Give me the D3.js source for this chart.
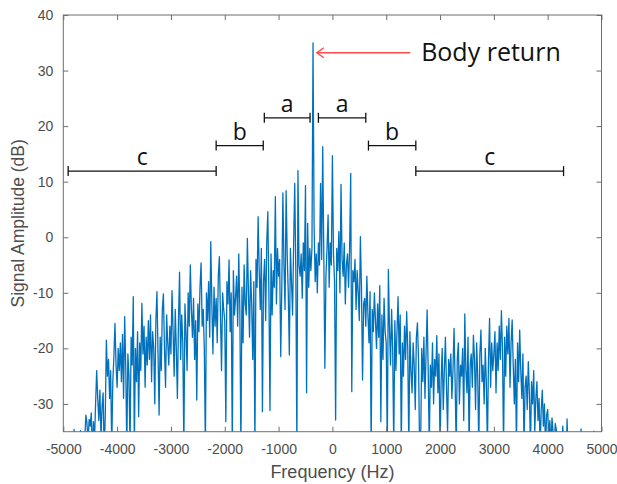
<!DOCTYPE html>
<html>
<head>
<meta charset="utf-8">
<script src="https://cdn.jsdelivr.net/npm/d3@7"></script>
<style>
  body { margin: 0; background: #fff; }
  svg { display: block; }
</style>
</head>
<body>
<svg id="chart" width="617" height="484"></svg>
<script>
// spectrum bins: first bin and bin width (Hz)
var binStart = -5000;
var binWidth = 20;

// signal amplitude (dB), one row per 200 Hz
var amplitude = [
  -42, -40, -44, -39, -41, -45, -40, -38, -43, -41,          // -5000
  -34.6, -39, -42, -40, -44, -38, -34.8, -41, -43, -39,      // -4800
  -36, -32, -33.5, -37, -32.8, -34, -31.6, -39, -33.2, -36.5, // -4600
  -30, -24, -29, -33, -27.5, -36, -30.5, -28, -39, -32,      // -4400
  -18.5, -25, -22, -29, -24, -38, -26, -21.5, -15.5, -23,    // -4200
  -27, -20, -24, -19, -26, -17.5, -29, -14.3, -23, -38,      // -4000
  -21, -25, -38, -18, -23, -10.7, -38, -20, -26, -17,        // -3800
  -32.3, -19, -24, -11.9, -21, -16, -27, -18, -23, -15,      // -3600
  -22, -14, -26, -17, -20, -30, -15, -9.8, -21, -32,         // -3400
  -18, -24, -13, -10.2, -20, -27, -14, -19, -23, -16,        // -3200
  -21, -9.6, -17, -25, -13, -20, -29, -15, -6.3, -22,        // -3000
  -14, -19, -38, -12, -17, -24, -10, -16, -5, -13,           // -2800
  -18, -11, -22, -15, -29.3, -12, -17, -9, -4.6, -16,        // -2600
  -13, -20, -38, -10, -15, -8, -18, -0.8, -12, -21,          // -2400
  -9, -16, -11, -19, -7, -3.5, -14, -24, -10, -13,           // -2200
  -15, -33.2, -8, -12, -4.1, -17, -10, -38, -6, -14,         // -2000
  -11, -7, -16, -3, -13, -38, -9, -19, -5, -12,              // -1800
  -14, -0.2, -10, -18, -6, -12, -22, -8, -38, -4,            // -1600
  -9, 3.7, -6, -13, -2, -31.4, -8, -4, -15, -1,              // -1400
  4.6, -10, -31.2, -3, -14, -6, -9, 7.3, -12, -2,            // -1200
  -7, -4, -21.5, -9, 8, -5, -13, 8.4, -3, -10,               // -1000
  -21.2, -2, -8, -14, -1, 9.7, -6, -38, 12, -5,              // -800
  -7, -3, -11, -1, -6, 9.3, -28, 2.5, -9, -2,                // -600
  -6, -2, 35, 2, -8, -3, -10, -1, -5, 9.7,                   // -400
  -4, 16.3, -3, -23.6, -7, -2, 4, -9, -1, -5,                // -200
  14.7, -3, -8, -32.9, -2, -6, 1, -10, 9.5, -4,              // 0
  -7, -1, -12, -5, -3, -9, -2, 11.5, -27.8, -6,              // 200
  -8, -4, -13, -6, -10, -15, 0.1, -9, -25.7, -12,            // 400
  -11, -16, -7, -14, -19, -9.8, -38, -13, -17, -10,          // 600
  -15, -20, -12, -18, -8.7, -33.2, -14, -22, -11, -17,       // 800
  -19, -38, -5.8, -16, -23, -13, -20, -38, -15, -24,         // 1000
  -17, -10.7, -21, -14, -38, -19, -25, -16, -22, -13.4,      // 1200
  -20, -38, -17, -24, -28, -19, -23, -31, -18, -15.4,        // 1400
  -22, -38, -37, -20, -26, -18, -29, -21, -13.1, -24,        // 1600
  -38, -23, -27, -19, -30, -22, -25, -17.7, -28, -21,        // 1800
  -38, -26, -20, -31, -24, -18, -27, -35, -22, -25,          // 2000
  -21, -29, -24, -16.4, -26, -38, -22, -19, -30, -23,        // 2200
  -25, -20, -33, -13.8, -24, -28, -18, -38, -23, -21,        // 2400
  -27, -17.6, -22, -31, -19, -25, -38, -21, -16.7, -26,      // 2600
  -23, -30, -20, -26, -38, -22, -14.6, -27, -19, -24,        // 2800
  -21, -17, -28, -19, -24, -16, -22, -13.2, -20, -38,        // 3000
  -18, -25, -16, -21, -14.6, -27, -19, -14.9, -23, -30,      // 3200
  -22, -38, -19, -26, -16.7, -24, -29, -21, -38, -27,        // 3400
  -25, -31, -22.4, -28, -38, -26, -30, -24, -35, -29,        // 3600
  -26, -33, -29, -38, -31, -27.5, -34, -30, -38, -32,        // 3800
  -31, -36, -33, -38, -32.5, -35, -40, -33.5, -34.6, -37,    // 4000
  -37, -41, -36, -39, -34, -38, -40, -43, -32.7, -39,        // 4200
  -42, -40, -45, -39, -41, -38, -44, -40, -43, -41,          // 4400
  -39, -34.5, -42, -40, -44, -38, -41, -43, -39, -42,        // 4600
  -40, -44, -39, -34.9, -42, -40, -45, -41, -38, -43,        // 4800
  -41                                                        // 5000
];

var xTicks = [-5000, -4000, -3000, -2000, -1000, 0, 1000, 2000, 3000, 4000, 5000];
var yTicks = [-30, -20, -10, 0, 10, 20, 30, 40];

// band brackets: from Hz, to Hz, level dB, label
var bandStart = [-4910, -2160, -1265, -260, 670, 1550];
var bandEnd = [-2160, -1285, -415, 620, 1550, 4295];
var bandLevel = [11.9, 16.5, 21.5, 21.5, 16.5, 11.9];
var bandLabel = ['c', 'b', 'a', 'a', 'b', 'c'];

// arrow pointing at the body return: tail, tip (Hz, dB)
var arrowFrom = [1445, 33.2];
var arrowTo = [-290, 33.2];
var calloutText = 'Body return';

var svg = d3.select('#chart');
var plotLeft = 63.3, plotRight = 601.5, plotTop = 15, plotBottom = 431.7;

var x = d3.scaleLinear().domain([-5000, 5000]).range([plotLeft, plotRight]);
var y = d3.scaleLinear().domain([-35, 40]).range([plotBottom, plotTop]);

var points = amplitude.map(function (v, i) {
  return { f: binStart + i * binWidth, a: v };
});

svg.append('clipPath').attr('id', 'plotclip')
  .append('rect')
  .attr('x', plotLeft).attr('y', plotTop)
  .attr('width', plotRight - plotLeft).attr('height', plotBottom - plotTop);

var line = d3.line()
  .x(function (d) { return x(d.f); })
  .y(function (d) { return y(d.a); });

svg.append('path')
  .datum(points)
  .attr('clip-path', 'url(#plotclip)')
  .attr('d', line)
  .attr('fill', 'none')
  .attr('stroke', '#0072BD')
  .attr('stroke-width', 1.3)
  .attr('stroke-linejoin', 'round');

// axes, ticks pointing inward like matlab
function styleAxis(g) {
  g.select('.domain').remove();
  g.selectAll('.tick line').attr('stroke', '#6e6e6e');
  g.selectAll('.tick text')
    .attr('fill', '#4d4d4d')
    .style('font-family', '"Liberation Sans", Arial, sans-serif')
    .style('font-size', '14px');
}

var fmt = function (d) { return String(d); };

svg.append('g')
  .attr('transform', 'translate(0,' + plotBottom + ')')
  .call(d3.axisBottom(x).tickValues(xTicks).tickFormat(fmt).tickSize(-5).tickPadding(12))
  .call(styleAxis);

svg.append('g')
  .attr('transform', 'translate(0,' + plotTop + ')')
  .call(d3.axisTop(x).tickValues(xTicks).tickFormat('').tickSize(-5))
  .call(styleAxis);

svg.append('g')
  .attr('transform', 'translate(' + plotLeft + ',0)')
  .call(d3.axisLeft(y).tickValues(yTicks).tickFormat(fmt).tickSize(-5).tickPadding(10))
  .call(styleAxis);

svg.append('g')
  .attr('transform', 'translate(' + plotRight + ',0)')
  .call(d3.axisRight(y).tickValues(yTicks).tickFormat('').tickSize(-5))
  .call(styleAxis);

svg.append('rect')
  .attr('x', plotLeft).attr('y', plotTop)
  .attr('width', plotRight - plotLeft).attr('height', plotBottom - plotTop)
  .attr('fill', 'none')
  .attr('stroke', '#6e6e6e')
  .attr('stroke-width', 1);

svg.append('text')
  .attr('x', (plotLeft + plotRight) / 2)
  .attr('y', 478)
  .attr('text-anchor', 'middle')
  .attr('fill', '#4d4d4d')
  .style('font-family', '"Liberation Sans", Arial, sans-serif')
  .style('font-size', '18px')
  .text('Frequency (Hz)');

svg.append('text')
  .attr('transform', 'translate(24,' + (plotTop + plotBottom) / 2 + ') rotate(-90)')
  .attr('text-anchor', 'middle')
  .attr('fill', '#4d4d4d')
  .style('font-family', '"Liberation Sans", Arial, sans-serif')
  .style('font-size', '17.5px')
  .text('Signal Amplitude (dB)');

// brackets
var brackets = svg.append('g').attr('stroke', '#111').attr('stroke-width', 1.3);
bandStart.forEach(function (s, i) {
  var x0 = x(s), x1 = x(bandEnd[i]), yy = y(bandLevel[i]);
  brackets.append('line').attr('x1', x0).attr('x2', x1).attr('y1', yy).attr('y2', yy);
  brackets.append('line').attr('x1', x0).attr('x2', x0).attr('y1', yy - 5).attr('y2', yy + 5);
  brackets.append('line').attr('x1', x1).attr('x2', x1).attr('y1', yy - 5).attr('y2', yy + 5);
  svg.append('text')
    .attr('x', (x0 + x1) / 2)
    .attr('y', yy - 6)
    .attr('text-anchor', 'middle')
    .attr('fill', '#111')
    .style('font-family', '"Open Sans", sans-serif')
    .style('font-size', '23px')
    .text(bandLabel[i]);
});

// callout arrow
var ax0 = x(arrowFrom[0]), ay0 = y(arrowFrom[1]);
var ax1 = x(arrowTo[0]), ay1 = y(arrowTo[1]);
var arrow = svg.append('g').attr('stroke', '#ff4b4b').attr('stroke-width', 1.4).attr('fill', 'none');
arrow.append('line').attr('x1', ax0).attr('y1', ay0).attr('x2', ax1).attr('y2', ay1);
arrow.append('path')
  .attr('d', 'M' + (ax1 + 7) + ',' + (ay1 - 5) + 'L' + ax1 + ',' + ay1 + 'L' + (ax1 + 7) + ',' + (ay1 + 5));

svg.append('text')
  .attr('x', ax0 + 11)
  .attr('y', ay0 + 8.5)
  .attr('fill', '#111')
  .style('font-family', '"Open Sans", sans-serif')
  .style('font-size', '25px')
  .text(calloutText);
</script>
</body>
</html>
